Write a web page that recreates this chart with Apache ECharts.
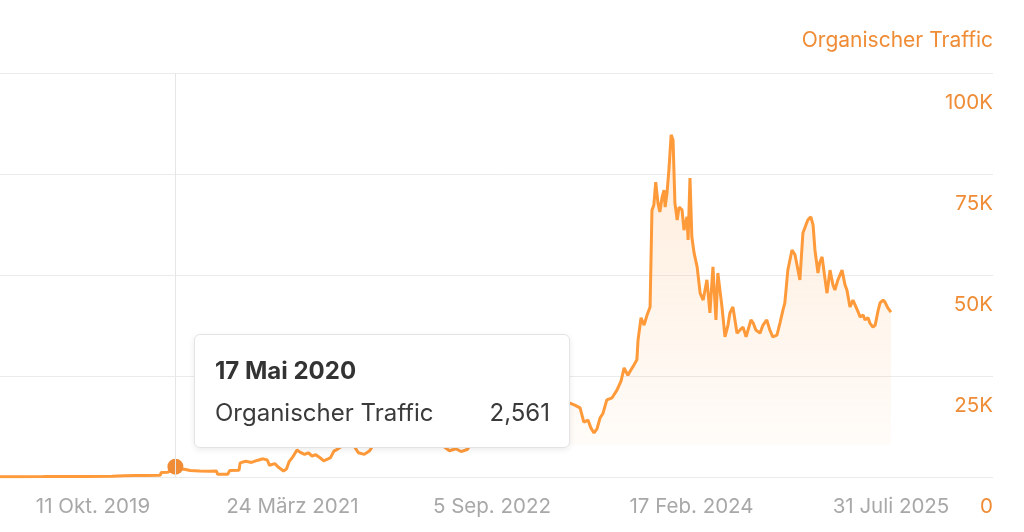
<!DOCTYPE html>
<html>
<head>
<meta charset="utf-8">
<script src="https://cdn.jsdelivr.net/npm/echarts@6/dist/echarts.min.js"></script>
<style>
html,body{margin:0;padding:0;background:#fff;}
#chart{width:1024px;height:532px;}
</style>
</head>
<body>
<div id="chart"></div>
<script>
const seriesName = 'Organischer Traffic';
const dates = [
'2019-02-06','2019-04-01','2019-06-01','2019-08-01','2019-10-01','2019-12-01','2020-01-01','2020-02-01','2020-03-01','2020-04-07',
'2020-04-09','2020-04-27','2020-05-05','2020-05-12','2020-05-17','2020-05-21','2020-06-10','2020-06-25','2020-07-20','2020-08-15',
'2020-09-03','2020-09-06','2020-10-03','2020-10-08','2020-11-02','2020-11-05','2020-11-20','2020-12-05','2020-12-20','2021-01-05',
'2021-01-16','2021-01-22','2021-02-05','2021-02-15','2021-02-28','2021-03-08','2021-03-15','2021-03-25','2021-04-05','2021-04-14',
'2021-04-25','2021-05-05','2021-05-15','2021-05-25','2021-06-06','2021-06-15','2021-06-25','2021-07-03','2021-07-12','2021-07-22',
'2021-07-30','2021-08-15','2021-09-01','2021-09-15','2021-10-01','2021-10-15','2021-11-01','2021-11-15','2021-12-01','2022-01-01',
'2022-02-01','2022-03-01','2022-04-01','2022-04-20','2022-05-01','2022-05-15','2022-06-01','2022-06-15','2022-07-01','2022-07-15',
'2022-08-01','2022-09-01','2022-10-01','2022-11-01','2022-12-01','2023-01-01','2023-02-01','2023-03-01','2023-03-15','2023-03-31',
'2023-04-13','2023-04-27','2023-05-07','2023-05-18','2023-05-26','2023-06-03','2023-06-11','2023-06-19','2023-06-27','2023-07-07',
'2023-07-21','2023-08-03','2023-08-14','2023-08-22','2023-09-01','2023-09-09','2023-09-17','2023-09-25','2023-09-28','2023-10-06',
'2023-10-14','2023-10-22','2023-10-30','2023-11-04','2023-11-09','2023-11-14','2023-11-20','2023-11-25','2023-12-01','2023-12-06',
'2023-12-09','2023-12-14','2023-12-19','2023-12-25','2023-12-30','2024-01-04','2024-01-10','2024-01-15','2024-01-23','2024-01-28',
'2024-02-05','2024-02-08','2024-02-13','2024-02-18','2024-02-24','2024-03-03','2024-03-11','2024-03-19','2024-03-29','2024-04-06',
'2024-04-14','2024-04-22','2024-04-27','2024-05-08','2024-05-16','2024-05-24','2024-05-29','2024-06-06','2024-06-17','2024-06-25',
'2024-07-03','2024-07-11','2024-07-16','2024-07-24','2024-07-30','2024-08-06','2024-08-17','2024-08-25','2024-09-04','2024-09-12',
'2024-09-20','2024-10-01','2024-10-09','2024-10-17','2024-10-22','2024-10-30','2024-11-10','2024-11-18','2024-11-23','2024-12-01',
'2024-12-09','2024-12-17','2024-12-22','2024-12-30','2025-01-05','2025-01-10','2025-01-18','2025-01-23','2025-01-29','2025-02-06',
'2025-02-11','2025-02-19','2025-02-27','2025-03-04','2025-03-12','2025-03-23','2025-03-31','2025-04-05','2025-04-13','2025-04-21',
'2025-04-26','2025-05-05','2025-05-10','2025-05-18','2025-05-23','2025-05-31','2025-06-05','2025-06-13','2025-06-19','2025-06-27',
'2025-07-02','2025-07-10','2025-07-15','2025-07-23','2025-07-31'
];
const traffic = [
80,90,100,120,140,200,280,350,400,450,
1100,1200,1700,2200,2561,1950,1900,1600,1500,1450,
1500,700,650,1600,1650,3500,3900,3600,4100,4500,
4200,2900,3300,2400,1500,2000,3800,5000,6700,6100,
5600,6000,5200,5500,4700,4000,4400,4800,6400,6900,
7400,8500,8000,6000,5600,6500,9000,10000,11000,10500,
12000,11000,10000,8000,7500,6500,7000,6300,6800,8500,
10000,11000,12000,14000,15500,17000,18500,19500,19000,18300,
17800,17100,13600,14100,12100,10900,11900,14600,15800,19100,
19600,21500,23800,27000,25200,26500,27700,29000,33900,39400,
37600,40100,42100,66000,67300,73000,67800,65600,69300,71000,
66800,70300,76000,84700,83400,67800,63600,66800,66100,61100,
64400,58700,74000,59400,55400,52000,45500,43800,48800,40600,
52000,38900,50500,42100,34700,37600,40600,42100,35600,36400,
37100,34700,34700,38900,38100,36400,35600,37600,38900,36400,
34700,35100,38100,41300,43100,51200,56200,55000,55400,48800,
60400,62400,63600,64400,62400,56200,50500,53200,54500,48800,
45500,51200,47500,46300,48800,51200,47500,46300,42100,43800,
43800,40800,39600,40100,38900,39400,38100,37100,37600,41300,
43100,43800,43300,41800,40800
];
const xTickDates = ['2019-10-11','2021-03-24','2022-09-05','2024-02-17','2025-07-31'];
const xTickLabels = ['11 Okt. 2019','24 März 2021','5 Sep. 2022','17 Feb. 2024','31 Juli 2025'];
const yTicks = [0, 25000, 50000, 75000, 100000];
const yTickLabels = ['0','25K','50K','75K','100K'];
const xMin = '2019-02-06';
const xMax = '2026-04-28';
const tipDate = '2020-05-17';
const tipTitle = '17 Mai 2020';
const tipValue = '2,561';

function toTs(s){const p=s.split('-').map(Number);return Date.UTC(p[0],p[1]-1,p[2]);}
const xTickTs = xTickDates.map(toTs);
const orange = '#ef8c35';
const font = 'Inter, "Noto Sans", sans-serif';

const chart = echarts.init(document.getElementById('chart'), null, {renderer:'canvas'});
const option = {
  animation:false,
  textStyle:{fontFamily:font},
  grid:{left:0,right:31,top:73,bottom:55,containLabel:false},
  tooltip:{
    trigger:'axis',
    triggerOn:'none',
    alwaysShowContent:true,
    position:[194,334],
    backgroundColor:'#fff',
    borderColor:'#e4e4e4',
    borderWidth:1,
    padding:0,
    extraCssText:'box-shadow:0 2px 6px rgba(0,0,0,0.08);border-radius:6px;width:376px;height:114px;box-sizing:border-box;',
    axisPointer:{type:'line',label:{show:false},lineStyle:{color:'#e6e6e6',width:1,type:'solid'}},
    formatter:function(){
      return '<div style="padding:20px 19px 0 20px;font-family:Inter,sans-serif;color:#333;">'+
        '<div style="font-weight:700;font-size:24px;line-height:32px;">'+tipTitle+'</div>'+
        '<div style="display:flex;justify-content:space-between;font-size:24px;line-height:32px;margin-top:10px;color:#3a3a3a;"><span>'+seriesName+'</span><span>'+tipValue+'</span></div></div>';
    }
  },
  xAxis:{
    type:'value',
    min:toTs(xMin),max:toTs(xMax),
    axisLine:{show:false},
    axisTick:{show:false},
    splitLine:{show:false},
    axisPointer:{label:{show:false}},
    axisLabel:{
      customValues:xTickTs,
      color:'#a8a8a8',fontSize:20.5,fontFamily:font,margin:19,
      formatter:function(v){const i=xTickTs.indexOf(v);return i>=0?xTickLabels[i]:'';}
    }
  },
  yAxis:{
    type:'value',
    position:'right',
    min:0,max:100000,interval:25000,
    name:seriesName,
    nameLocation:'end',
    nameGap:32,
    nameTextStyle:{color:orange,fontSize:21,fontFamily:font,align:'right',verticalAlign:'middle'},
    axisLine:{show:false},
    axisTick:{show:false},
    splitLine:{lineStyle:{color:'#ebebeb',width:1}},
    axisLabel:{
      inside:true,margin:0,color:orange,fontSize:20.5,fontFamily:font,
      verticalAlign:'top',padding:[19,0,0,0],
      formatter:function(v){const i=yTicks.indexOf(v);return i>=0?yTickLabels[i]:'';}
    }
  },
  series:[{
    name:seriesName,
    type:'line',
    data:dates.map((d,i)=>[toTs(d),traffic[i]]),
    showSymbol:false,
    symbol:'circle',
    symbolSize:16,
    itemStyle:{color:orange},
    lineStyle:{color:orange,width:3},
    emphasis:{scale:false,lineStyle:{width:3}},
    areaStyle:{
      color:new echarts.graphic.LinearGradient(0,0,0,1,[
        {offset:0,color:'rgba(239,140,53,0.26)'},
        {offset:0.9,color:'rgba(239,140,53,0.05)'},
        {offset:0.91,color:'rgba(239,140,53,0)'},
        {offset:1,color:'rgba(239,140,53,0)'}
      ])
    }
  }]
};
chart.setOption(option);
chart.dispatchAction({type:'showTip',seriesIndex:0,dataIndex:dates.indexOf(tipDate)});
</script>
</body>
</html>
